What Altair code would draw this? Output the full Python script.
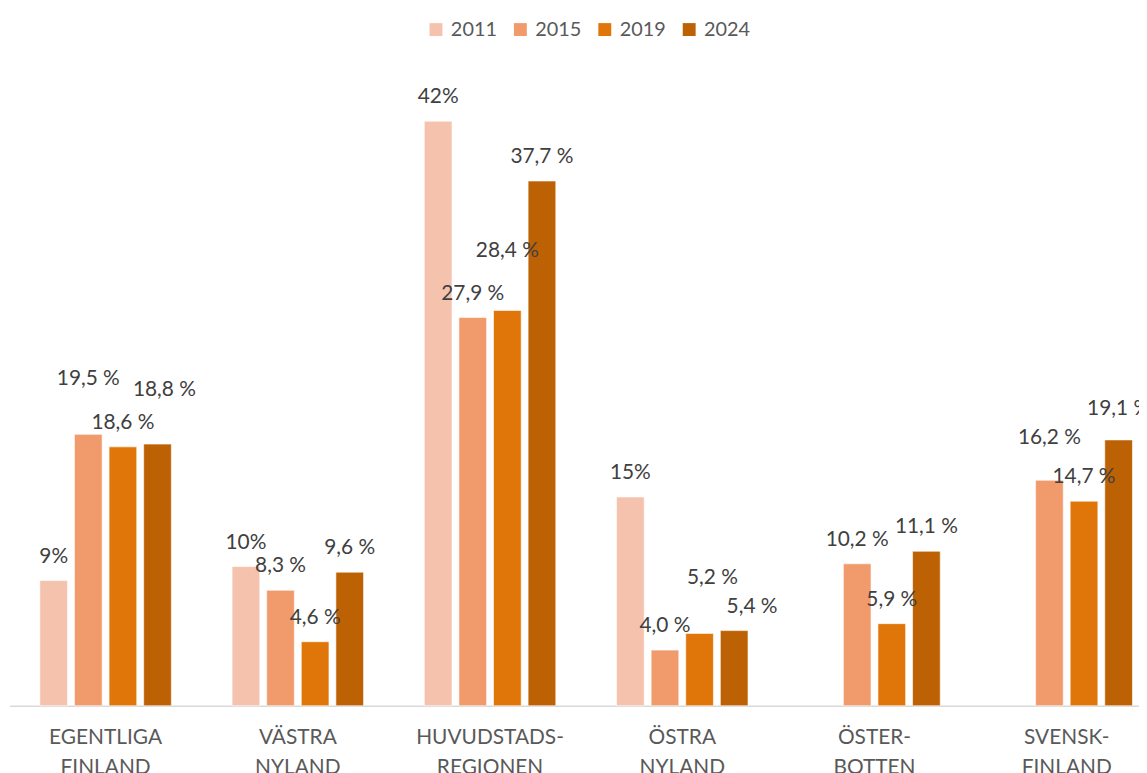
import altair as alt
import pandas as pd

# ---- data ----
categories = ["EGENTLIGA\nFINLAND", "VÄSTRA\nNYLAND", "HUVUDSTADS-\nREGIONEN",
              "ÖSTRA\nNYLAND", "ÖSTER-\nBOTTEN", "SVENSK-\nFINLAND"]
years = ["2011", "2015", "2019", "2024"]
share_2011 = [9, 10, 42, 15, None, None]
share_2015 = [19.5, 8.3, 27.9, 4.0, 10.2, 16.2]
share_2019 = [18.6, 4.6, 28.4, 5.2, 5.9, 14.7]
share_2024 = [18.8, 9.6, 37.7, 5.4, 11.1, 19.1]

# ---- style ----
colors = ["#F5C3AD", "#F19B6D", "#E07609", "#BD6105"]
FONT = "Lato"
# label nudges in pixels (dx, lift above bar top), as placed in the original
default_nudge = (0, 24)
label_nudges = {
    (0, "2015"): (0, 56), (0, "2024"): (7, 54),
    (2, "2019"): (0, 60),
    (3, "2019"): (13, 56), (3, "2024"): (18, 24),
    (5, "2015"): (0, 43), (5, "2024"): (0, 31),
}

series = {"2011": share_2011, "2015": share_2015, "2019": share_2019, "2024": share_2024}
rows = []
for y in years:
    for i, (cat, v) in enumerate(zip(categories, series[y])):
        if v is None:
            continue
        if y == "2011":
            txt = f"{v:g}%"
        else:
            txt = f"{v:.1f}".replace(".", ",") + " %"
        dx, lift = label_nudges.get((i, y), default_nudge)
        rows.append({"region": cat, "year": y, "value": v, "label": txt,
                     "nudge": f"{dx}_{lift}"})
df = pd.DataFrame(rows)

x_enc = alt.X("region:N", sort=categories, title=None,
              scale=alt.Scale(range=[1.5, 1163], paddingInner=0.28, paddingOuter=0.14),
              axis=alt.Axis(labelExpr="split(datum.label, '\\n')", labelAngle=0,
                            labelAlign="center", labelBaseline="top",
                            labelFontSize=21, labelFont=FONT, labelColor="#595959",
                            labelLineHeight=30, labelPadding=21, labelLimit=400,
                            ticks=False, domainColor="#D9D9D9", domainWidth=1.5,
                            grid=False))
xo_enc = alt.XOffset("year:N", sort=years,
                     scale=alt.Scale(domain=years, paddingInner=0.2, paddingOuter=0.1))
y_enc = alt.Y("value:Q", scale=alt.Scale(domain=[0, 44.8]), axis=None)

base = alt.Chart(df)

bars = base.mark_bar(stroke="white", strokeWidth=0.6).encode(
    x=x_enc, xOffset=xo_enc, y=y_enc,
    color=alt.Color("year:N", scale=alt.Scale(domain=years, range=colors),
                    legend=alt.Legend(title=None, orient="none", legendX=421, legendY=-63,
                                      direction="horizontal", symbolType="square",
                                      symbolSize=169, symbolStrokeWidth=0,
                                      labelFontSize=20, labelFont=FONT,
                                      labelColor="#595959", columnPadding=13,
                                      labelOffset=5, padding=0)),
)

layers = [bars]
nudge_set = sorted(set(df["nudge"]))
for key in nudge_set:
    dx, lift = [int(p) for p in key.split("_")]
    layers.append(
        base.transform_filter(alt.datum.nudge == key)
        .mark_text(dx=dx, dy=-lift, baseline="middle", align="center",
                   fontSize=21, font=FONT, color="#404040")
        .encode(x=x_enc, xOffset=xo_enc, y=y_enc, text="label:N")
    )

chart = alt.layer(*layers).properties(
    width=1139, height=628,
    autosize=alt.AutoSizeParams(type="none"),
    padding={"left": 0, "top": 72, "right": 0, "bottom": 65},
).configure_view(stroke=None)

chart.save("out.html", embed_options={"renderer": "svg", "actions": False})
